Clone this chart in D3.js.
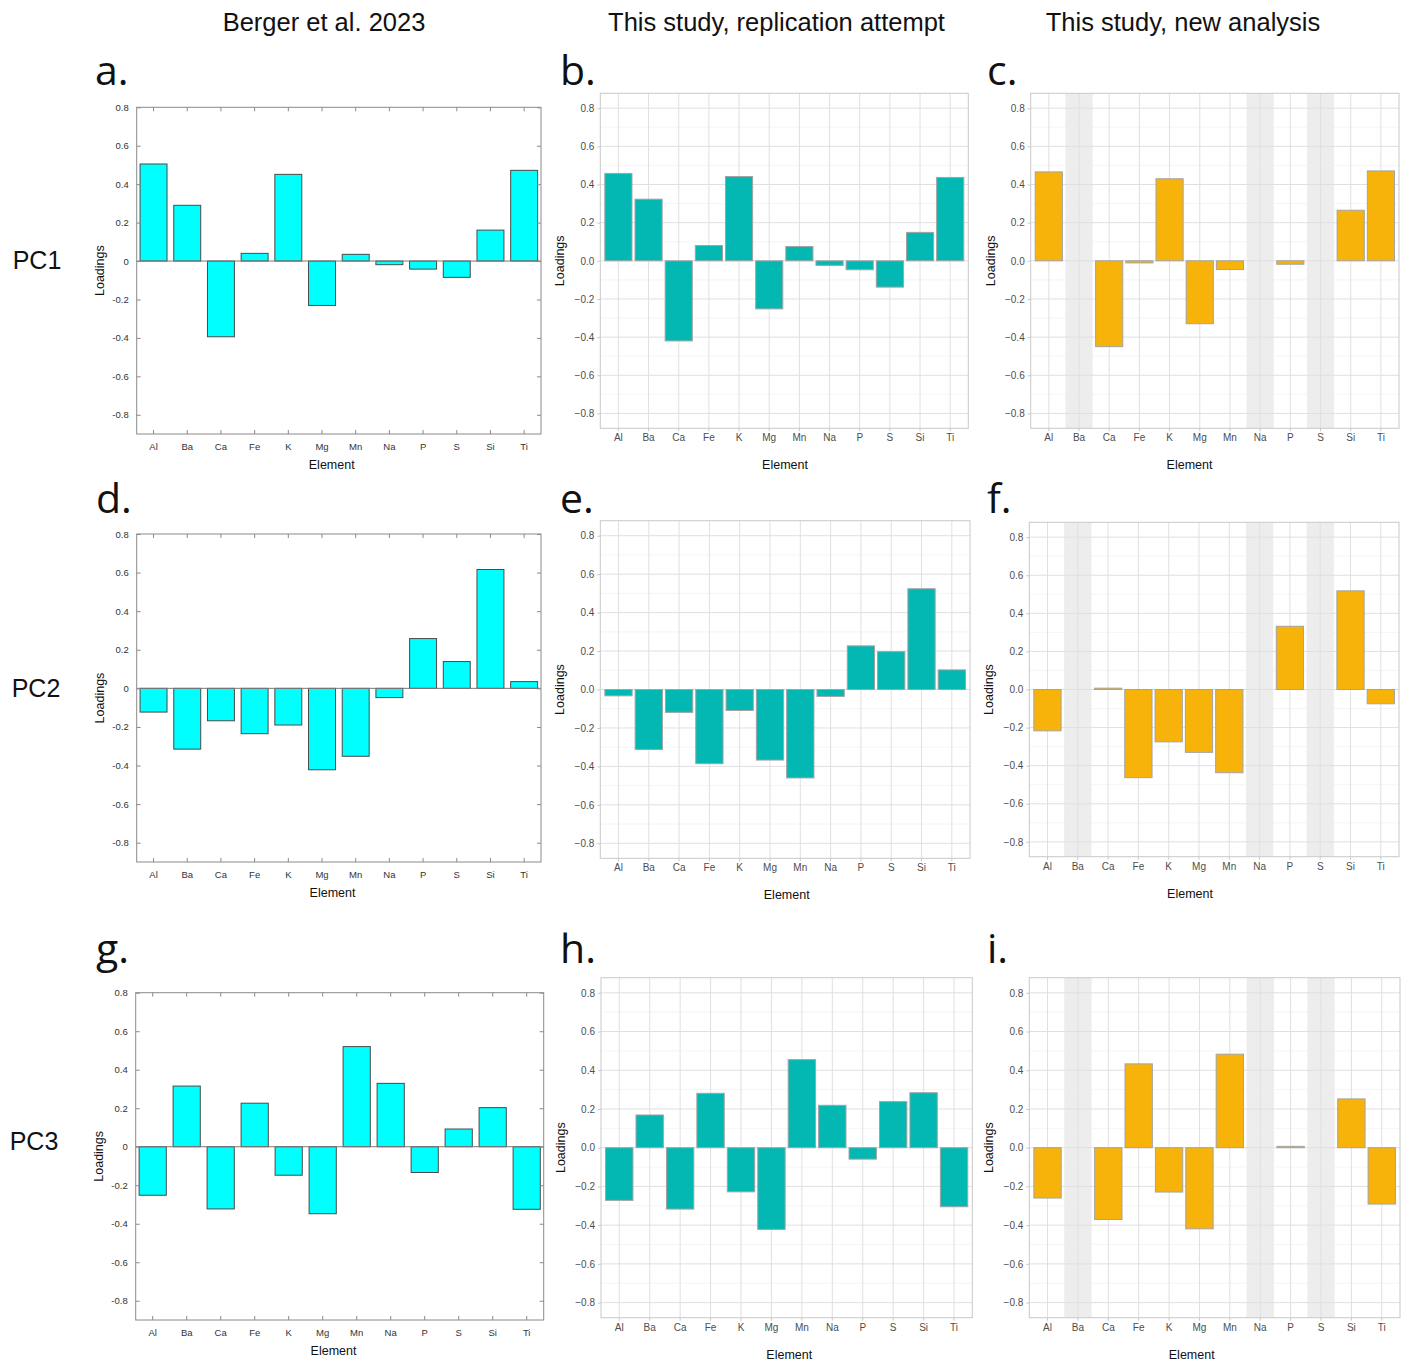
<!DOCTYPE html>
<html>
<head>
<meta charset="utf-8">
<script src="https://cdn.jsdelivr.net/npm/d3@7/dist/d3.min.js"></script>
<style>
  html, body { margin: 0; padding: 0; background: #fff; }
  svg { display: block; }
</style>
</head>
<body>
<svg id="chart" width="1408" height="1361"></svg>
<script>
// ---------------- DATA ----------------
const elements = ["Al", "Ba", "Ca", "Fe", "K", "Mg", "Mn", "Na", "P", "S", "Si", "Ti"];
const excludedElements = ["Ba", "Na", "S"];

const columnTitles = ["Berger et al. 2023", "This study, replication attempt", "This study, new analysis"];
const rowLabels = ["PC1", "PC2", "PC3"];
const panelLetters = ["a.", "b.", "c.", "d.", "e.", "f.", "g.", "h.", "i."];

const matlabTicks = [0.8, 0.6, 0.4, 0.2, 0, -0.2, -0.4, -0.6, -0.8];
const ggTicks = [0.8, 0.6, 0.4, 0.2, 0, -0.2, -0.4, -0.6, -0.8];
const ggMinorTicks = [0.7, 0.5, 0.3, 0.1, -0.1, -0.3, -0.5, -0.7];

// Berger et al. 2023
const bergerPC1 = [0.505, 0.29, -0.394, 0.04, 0.451, -0.231, 0.035, -0.019, -0.042, -0.085, 0.161, 0.472];
const bergerPC2 = [-0.123, -0.315, -0.168, -0.235, -0.19, -0.422, -0.352, -0.048, 0.258, 0.139, 0.616, 0.035];
const bergerPC3 = [-0.252, 0.315, -0.323, 0.226, -0.148, -0.348, 0.52, 0.329, -0.134, 0.092, 0.203, -0.325];

// This study, replication attempt
const replPC1 = [0.458, 0.323, -0.42, 0.08, 0.442, -0.252, 0.075, -0.024, -0.047, -0.138, 0.149, 0.437];
const replPC2 = [-0.033, -0.312, -0.119, -0.386, -0.109, -0.367, -0.46, -0.036, 0.227, 0.197, 0.524, 0.102];
const replPC3 = [-0.272, 0.169, -0.317, 0.281, -0.228, -0.422, 0.455, 0.219, -0.059, 0.238, 0.284, -0.305];

// This study, new analysis (null = element excluded)
const newPC1 = [0.466, null, -0.45, -0.011, 0.43, -0.33, -0.046, null, -0.018, null, 0.265, 0.471];
const newPC2 = [-0.217, null, 0.007, -0.463, -0.275, -0.33, -0.437, null, 0.332, null, 0.518, -0.075];
const newPC3 = [-0.26, null, -0.371, 0.433, -0.229, -0.419, 0.483, null, 0.007, null, 0.252, -0.291];

// ---------------- LAYOUT ----------------
const panels = [
  {style: "matlab", values: bergerPC1, box: [136.7, 541, 107.3, 434], letter: [95, 85], elemX: 331.7},
  {style: "gg", color: "#03B8B2", values: replPC1, box: [600.3, 968.3, 93.3, 428.3], letter: [560, 85], elemX: 785},
  {style: "gg", color: "#F8B30B", values: newPC1, box: [1030.7, 1399, 93.3, 428.3], letter: [987, 85], bands: true, elemX: 1189.5},
  {style: "matlab", values: bergerPC2, box: [136.7, 541, 534, 862], letter: [96, 513], elemX: 332.5},
  {style: "gg", color: "#03B8B2", values: replPC2, box: [600.3, 970, 520.7, 858.3], letter: [560, 513], elemX: 786.7},
  {style: "gg", color: "#F8B30B", values: newPC2, box: [1029.3, 1399, 522.3, 856.7], letter: [987, 513], bands: true, elemX: 1190},
  {style: "matlab", values: bergerPC3, box: [135.7, 543.7, 992.7, 1320], letter: [96, 963], elemX: 333.5},
  {style: "gg", color: "#03B8B2", values: replPC3, box: [601, 972.3, 977.7, 1317.7], letter: [560, 963], elemX: 789.3},
  {style: "gg", color: "#F8B30B", values: newPC3, box: [1029.3, 1400, 977.7, 1317.7], letter: [987, 963], bands: true, elemX: 1191.7}
];

const svg = d3.select("#chart");
const sans = "'Liberation Sans', Arial, Helvetica, sans-serif";
const hyphenFmt = d3.formatLocale({decimal: ".", thousands: ",", grouping: [3], currency: ["", ""], minus: "-"});
const matlabFmt = d => d === 0 ? "0" : hyphenFmt.format(".1f")(d);
const ggFmt = d3.format(".1f");

// column titles
const titleX = [324, 776.5, 1183];
columnTitles.forEach((t, i) => {
  svg.append("text").attr("x", titleX[i]).attr("y", 31)
    .attr("text-anchor", "middle").attr("font-family", sans)
    .attr("font-size", 25.5).attr("fill", "#111").text(t);
});

// row labels
const rowY = [269, 697, 1150];
const rowX = [37, 36, 34];
rowLabels.forEach((t, i) => {
  svg.append("text").attr("x", rowX[i]).attr("y", rowY[i])
    .attr("text-anchor", "middle").attr("font-family", sans)
    .attr("font-size", 25).attr("fill", "#111").text(t);
});

panels.forEach((p, idx) => {
  const [L, R, T, B] = p.box;
  const g = svg.append("g");

  // letter
  svg.append("text").attr("x", p.letter[0]).attr("y", p.letter[1])
    .attr("font-family", "'Open Sans', 'Noto Sans', sans-serif")
    .attr("font-size", 41).attr("fill", "#111").text(panelLetters[idx]);

  if (p.style === "matlab") {
    const x = d3.scaleBand().domain(elements).range([L, R]).paddingInner(0.2).paddingOuter(0.1);
    const y = d3.scaleLinear().domain([-0.9, 0.8]).range([B, T]);

    // bars
    g.selectAll("rect.bar").data(elements).join("rect")
      .attr("x", d => x(d))
      .attr("width", x.bandwidth())
      .attr("y", (d, i) => y(Math.max(0, p.values[i])))
      .attr("height", (d, i) => Math.abs(y(p.values[i]) - y(0)))
      .attr("fill", "#00FFFF").attr("stroke", "#4a4a4a").attr("stroke-width", 1);

    // baseline
    g.append("line").attr("x1", L).attr("x2", R).attr("y1", y(0)).attr("y2", y(0))
      .attr("stroke", "#7a7a7a").attr("stroke-width", 1);

    // box
    g.append("rect").attr("x", L).attr("y", T).attr("width", R - L).attr("height", B - T)
      .attr("fill", "none").attr("stroke", "#8a8a8a").attr("stroke-width", 1);

    // axes (inside ticks)
    const ax = d3.axisLeft(y).tickValues(matlabTicks).tickFormat(matlabFmt).tickSizeInner(-4).tickSizeOuter(0).tickPadding(8);
    const ag = g.append("g").attr("transform", `translate(${L},0)`).call(ax);
    const ar = g.append("g").attr("transform", `translate(${R},0)`)
      .call(d3.axisRight(y).tickValues(matlabTicks).tickSizeInner(-4).tickSizeOuter(0).tickFormat(""));
    const xb = g.append("g").attr("transform", `translate(0,${B})`)
      .call(d3.axisBottom(x).tickSizeInner(-4).tickSizeOuter(0).tickPadding(9));
    const xt = g.append("g").attr("transform", `translate(0,${T})`)
      .call(d3.axisTop(x).tickSizeInner(-4).tickSizeOuter(0).tickFormat(""));
    [ag, ar, xb, xt].forEach(a => {
      a.select(".domain").remove();
      a.selectAll(".tick line").attr("stroke", "#8a8a8a");
      a.selectAll("text").attr("font-family", sans).attr("font-size", 9.5).attr("fill", "#333");
    });

    // axis titles
    g.append("text").attr("transform", `translate(${L - 33},${(T + B) / 2}) rotate(-90)`)
      .attr("text-anchor", "middle").attr("font-family", sans).attr("font-size", 12.5)
      .attr("fill", "#111").text("Loadings");
    g.append("text").attr("x", p.elemX).attr("y", B + 35)
      .attr("text-anchor", "middle").attr("font-family", sans).attr("font-size", 12.5)
      .attr("fill", "#111").text("Element");
  } else {
    const x = d3.scaleBand().domain(elements).range([L, R]).paddingInner(0.1).paddingOuter(0.15);
    const y = d3.scaleLinear().domain([-0.878, 0.878]).range([B, T]);

    // excluded element bands
    if (p.bands) {
      g.selectAll("rect.band").data(excludedElements).join("rect")
        .attr("x", d => x(d)).attr("width", x.bandwidth())
        .attr("y", T).attr("height", B - T).attr("fill", "#eeeded");
    }

    // minor grid
    g.selectAll("line.minor").data(ggMinorTicks).join("line")
      .attr("x1", L).attr("x2", R).attr("y1", d => y(d)).attr("y2", d => y(d))
      .attr("stroke", "#efefef").attr("stroke-width", 0.6);
    // major grid
    g.selectAll("line.major").data(ggTicks).join("line")
      .attr("x1", L).attr("x2", R).attr("y1", d => y(d)).attr("y2", d => y(d))
      .attr("stroke", "#e0e0e0").attr("stroke-width", 1);
    g.selectAll("line.vmajor").data(elements).join("line")
      .attr("x1", d => x(d) + x.bandwidth() / 2).attr("x2", d => x(d) + x.bandwidth() / 2)
      .attr("y1", T).attr("y2", B)
      .attr("stroke", "#e0e0e0").attr("stroke-width", 1);

    // bars
    const present = elements.map((e, i) => ({e, v: p.values[i]})).filter(d => d.v !== null);
    g.selectAll("rect.bar").data(present).join("rect")
      .attr("x", d => x(d.e))
      .attr("width", x.bandwidth())
      .attr("y", d => y(Math.max(0, d.v)))
      .attr("height", d => Math.max(1, Math.abs(y(d.v) - y(0))))
      .attr("fill", p.color).attr("stroke", "#a3a3a3").attr("stroke-width", 1);

    // panel border
    g.append("rect").attr("x", L).attr("y", T).attr("width", R - L).attr("height", B - T)
      .attr("fill", "none").attr("stroke", "#c9c9c9").attr("stroke-width", 1);

    const ay = g.append("g").attr("transform", `translate(${L},0)`)
      .call(d3.axisLeft(y).tickValues(ggTicks).tickFormat(ggFmt).tickSizeInner(3).tickSizeOuter(0).tickPadding(3));
    const axb = g.append("g").attr("transform", `translate(0,${B})`)
      .call(d3.axisBottom(x).tickSizeInner(3).tickSizeOuter(0).tickPadding(3));
    [ay, axb].forEach(a => {
      a.select(".domain").remove();
      a.selectAll(".tick line").attr("stroke", "#c9c9c9");
      a.selectAll("text").attr("font-family", sans).attr("font-size", 10).attr("fill", "#4d4d4d");
    });

    g.append("text").attr("transform", `translate(${L - 36},${(T + B) / 2}) rotate(-90)`)
      .attr("text-anchor", "middle").attr("font-family", sans).attr("font-size", 12.5)
      .attr("fill", "#111").text("Loadings");
    g.append("text").attr("x", p.elemX).attr("y", B + 41)
      .attr("text-anchor", "middle").attr("font-family", sans).attr("font-size", 12.5)
      .attr("fill", "#111").text("Element");
  }
});
</script>
</body>
</html>
